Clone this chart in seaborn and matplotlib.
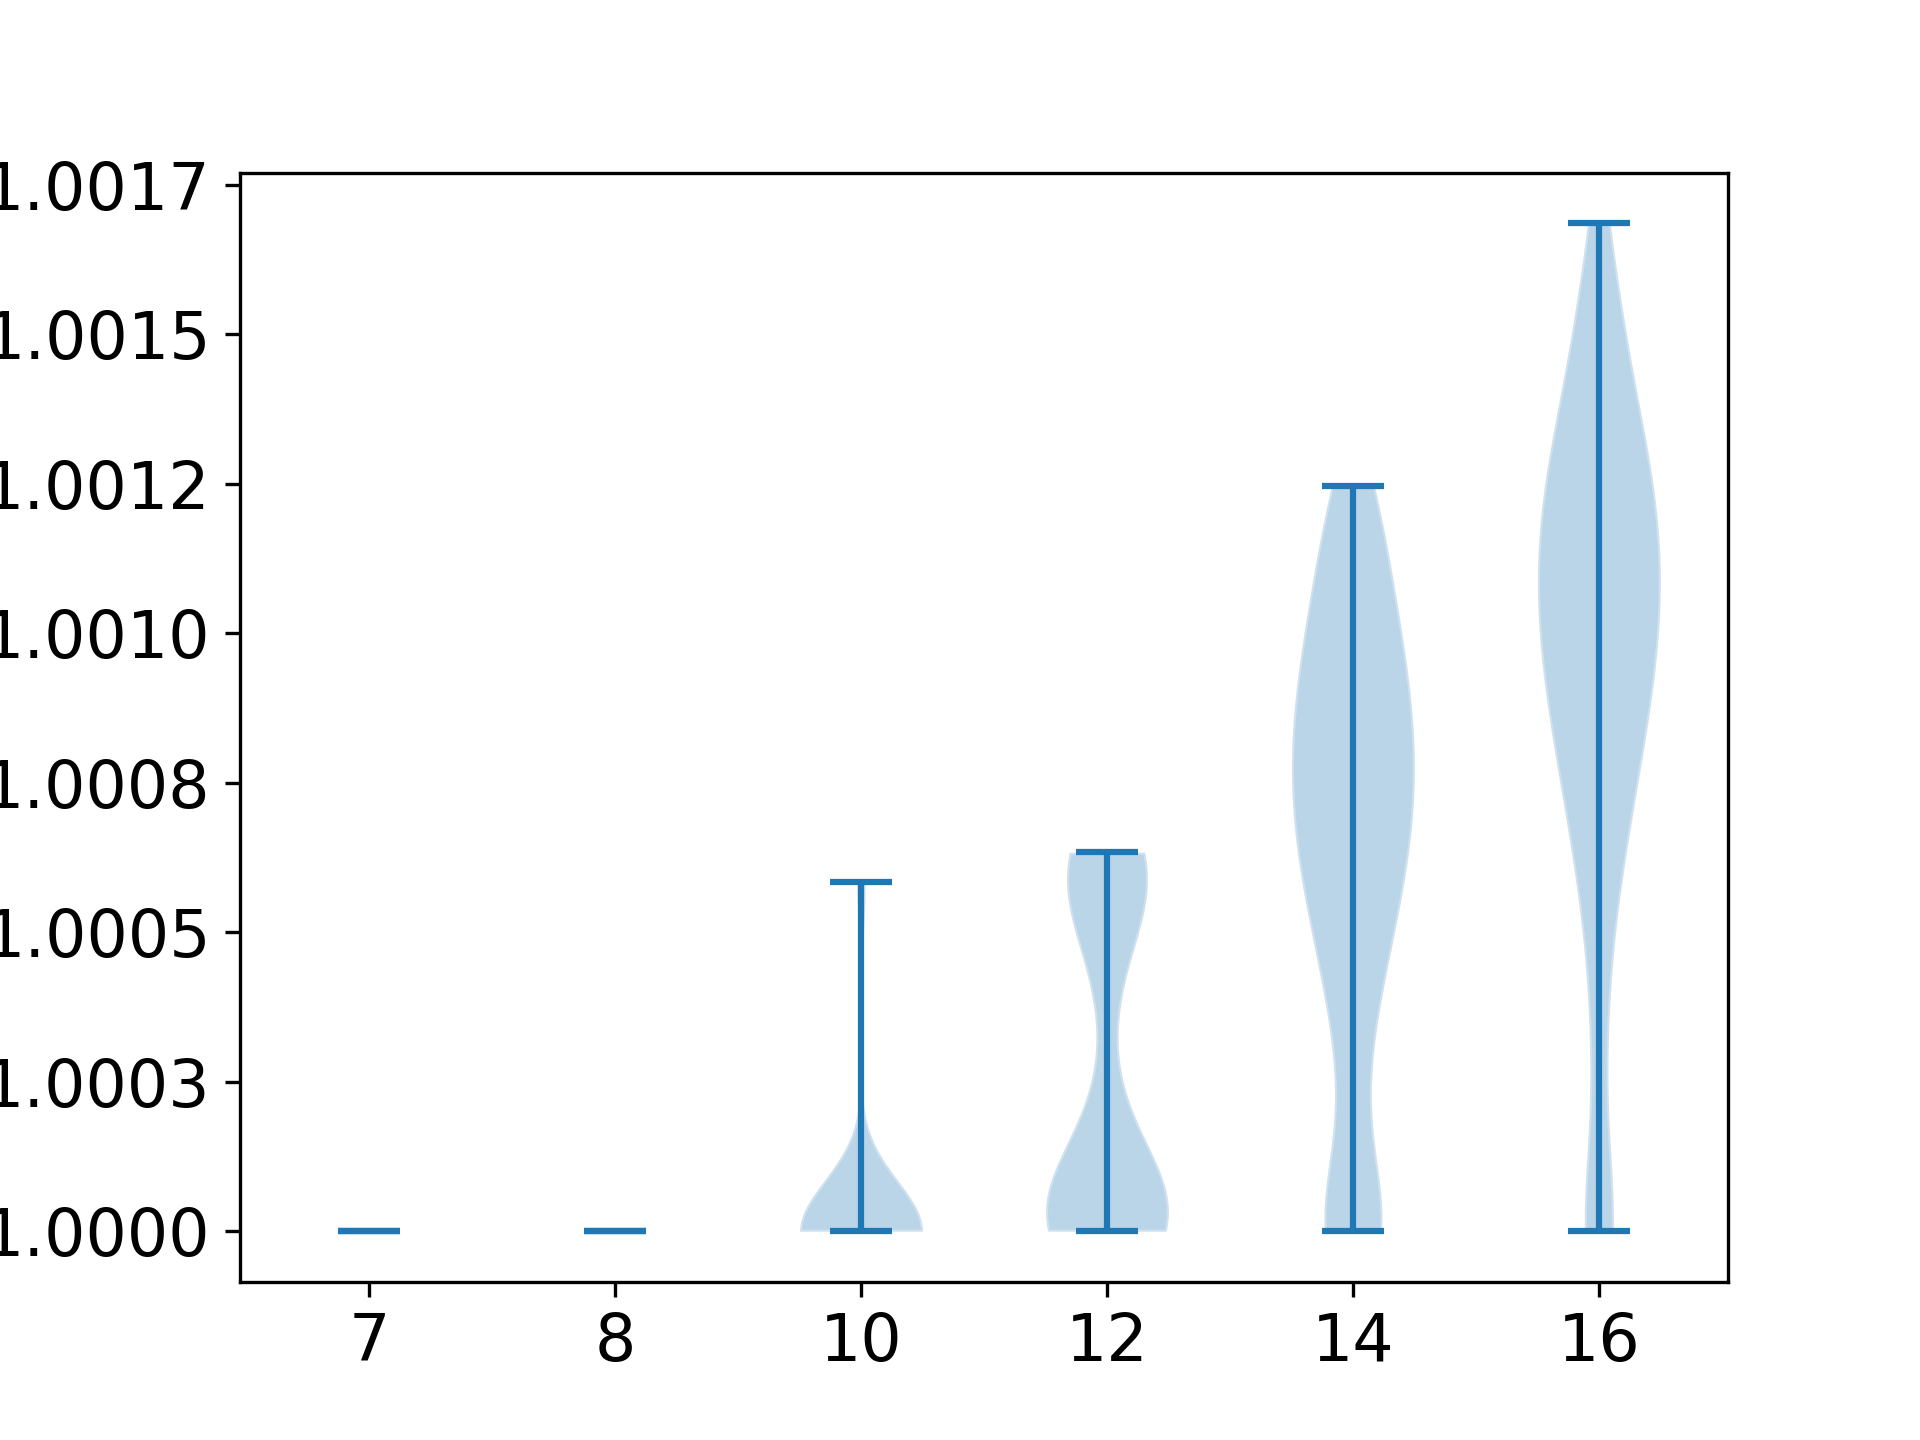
import numpy as np
import seaborn as sns
from matplotlib import pyplot as plt
from matplotlib import ticker as plticker

# x tick labels (one violin per group)
groups = ['7', '8', '10', '12', '14', '16']

# sample values and how often each one occurs, per group
g7_vals = [1.0]
g7_counts = [10]

g8_vals = [1.0]
g8_counts = [10]

g10_vals = [1.0, 1.000584]
g10_counts = [15, 1]

g12_vals = [1.0, 1.00005, 1.0001, 1.00015, 1.0002, 1.00025,
            1.0004, 1.00045, 1.0005, 1.00055, 1.0006, 1.000634]
g12_counts = [32, 13, 8, 3, 2, 1, 2, 3, 2, 8, 12, 13]

g14_vals = [1.0, 1.0001, 1.0002, 1.0003, 1.0004, 1.0005, 1.0006, 1.0007,
            1.0008, 1.0009, 1.0010, 1.0011, 1.0012, 1.001246]
g14_counts = [38, 4, 6, 8, 14, 21, 28, 32, 33, 30, 25, 19, 13, 8]

g16_vals = [1.0, 1.0002, 1.0003, 1.0004, 1.0005, 1.0006, 1.0007, 1.0008,
            1.0009, 1.0010, 1.0011, 1.0012, 1.0013, 1.0014, 1.0015,
            1.0016, 1.001686]
g16_counts = [24, 4, 5, 4, 8, 12, 18, 24, 30, 34, 36, 34, 28, 20, 13, 10, 5]


def expand(vals, counts):
    """turn a value/count table back into the sample list"""
    return np.repeat(np.array(vals), np.array(counts))


samples = [
    expand(g7_vals, g7_counts),
    expand(g8_vals, g8_counts),
    expand(g10_vals, g10_counts),
    expand(g12_vals, g12_counts),
    expand(g14_vals, g14_counts),
    expand(g16_vals, g16_counts),
]

sns.set_style('ticks', rc={
    'axes.edgecolor': 'black',
    'text.color': 'black',
    'xtick.color': 'black',
    'ytick.color': 'black',
    'axes.linewidth': 0.8,
})
sns.set_palette('tab10')
plt.rcParams['font.family'] = ['DejaVu Sans']

fig, ax = plt.subplots(figsize=(6.4, 4.8), dpi=300)

ax.violinplot(samples)

ax.set_xticks(range(1, len(groups) + 1), groups)
ax.yaxis.set_major_locator(plticker.MultipleLocator(0.00025))
ax.yaxis.set_major_formatter(plticker.FormatStrFormatter('%.4f'))
ax.tick_params(axis='both', labelsize=15.6, length=3.5, width=0.8)

fig.savefig('out.png', dpi=300)
